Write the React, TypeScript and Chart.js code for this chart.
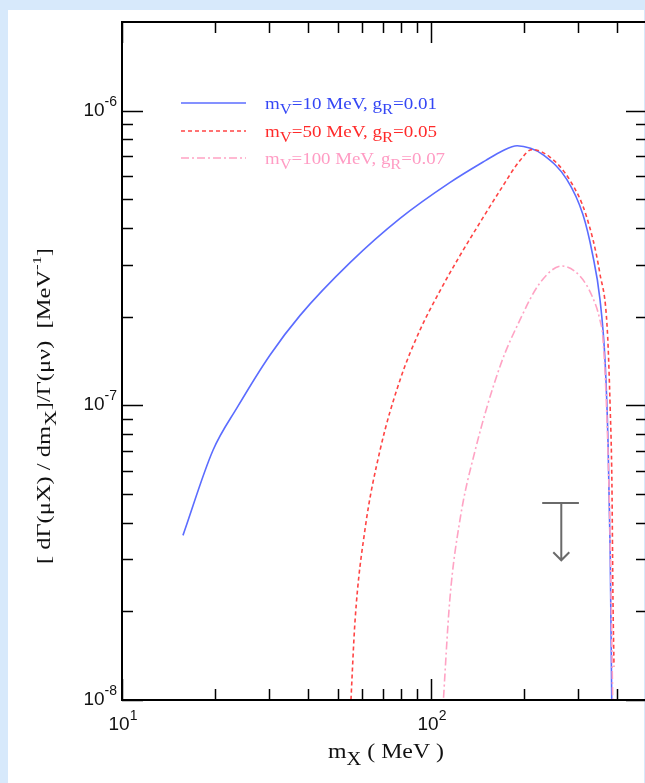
import { useEffect, useRef } from "react";
import { Chart, registerables } from "chart.js";

Chart.register(...registerables);

// Differential rate vs. m_X for three (m_V, g_R) choices
const massBlue = [15.75, 19.7, 23.6, 30.1, 37.7, 54.7, 79.4, 115, 150, 170, 190, 210, 230, 275, 310, 333, 352, 366, 374, 380, 383, 385];
const rateBlue = [3.62e-8, 7.04e-8, 9.84e-8, 1.48e-7, 2.02e-7, 3.05e-7, 4.31e-7, 5.7e-7, 6.77e-7, 7.3e-7, 7.6e-7, 7.45e-7, 7.1e-7, 5.85e-7, 4.45e-7, 3.27e-7, 2.3e-7, 1.4e-7, 7.5e-8, 3.2e-8, 1.5e-8, 8.5e-9];

const massRed = [54.8, 56.8, 61.1, 68.4, 79.4, 92.1, 107, 124, 144, 167, 194, 212, 243, 282, 318, 352, 372, 380, 385, 388, 391];
const rateRed = [9e-9, 1.87e-8, 3.77e-8, 7.04e-8, 1.22e-7, 1.8e-7, 2.45e-7, 3.22e-7, 4.17e-7, 5.35e-7, 6.77e-7, 7.38e-7, 6.95e-7, 5.79e-7, 4.4e-7, 2.8e-7, 1.8e-7, 9.8e-8, 5.4e-8, 2.2e-8, 1.3e-8];

const massPink = [109, 115, 124, 139, 167, 194, 225, 265, 303, 332, 352, 360, 371, 380, 385, 388];
const ratePink = [9e-9, 2.18e-8, 4.07e-8, 7.04e-8, 1.35e-7, 1.95e-7, 2.6e-7, 2.97e-7, 2.75e-7, 2.35e-7, 1.95e-7, 1.69e-7, 9e-8, 3.5e-8, 1.5e-8, 8.5e-9];

// Experimental upper limit marker
const limitMass = 264;
const limitRate = 4.66e-8;
const limitTipRate = 2.98e-8;
const limitBarMass = [229, 301];

// Axis ranges and ticks
const xRange = [10, 500];
const yRange = [1e-8, 2e-6];
const xMajorTicks = [10, 100];
const xMinorTicks = [20, 30, 40, 50, 60, 70, 80, 90, 200, 300, 400];
const yMajorTicks = [1e-8, 1e-7, 1e-6];
const yMinorTicks = [2e-8, 3e-8, 4e-8, 5e-8, 6e-8, 7e-8, 8e-8, 9e-8, 2e-7, 3e-7, 4e-7, 5e-7, 6e-7, 7e-7, 8e-7, 9e-7];
const xLabelValues = [10, 100];
const xLabelExps = ["1", "2"];
const yLabelValues = [1e-8, 1e-7, 1e-6];
const yLabelExps = ["-8", "-7", "-6"];

// Legend entries
const legendMasses = ["10", "50", "100"];
const legendCouplings = ["0.01", "0.05", "0.07"];

const BLUE = "#5b6cff";
const RED = "#ff4444";
const PINK = "#ffa3c4";
const BLUE_TEXT = "#3446f5";
const RED_TEXT = "#ff2a2a";
const PINK_TEXT = "#ff9cc4";
const RED_DASH = [4, 3];
const PINK_DASH = [8, 3, 2, 3];

const SERIF = '"Liberation Serif", "Times New Roman", serif';
const SANS = '"Liberation Sans", Arial, sans-serif';

type Part = { t: string; size: number; dy: number };

function drawRich(
  ctx: CanvasRenderingContext2D,
  parts: Part[],
  x: number,
  y: number,
  align: "left" | "center" | "right",
  family: string,
  color: string,
  targetW?: number
) {
  ctx.save();
  let w = 0;
  for (const p of parts) {
    ctx.font = `${p.size}px ${family}`;
    w += ctx.measureText(p.t).width;
  }
  const sx = targetW ? targetW / w : 1;
  const total = w * sx;
  const x0 = align === "left" ? x : align === "center" ? x - total / 2 : x - total;
  ctx.translate(x0, y);
  ctx.scale(sx, 1);
  ctx.fillStyle = color;
  ctx.textAlign = "left";
  ctx.textBaseline = "alphabetic";
  let cx = 0;
  for (const p of parts) {
    ctx.font = `${p.size}px ${family}`;
    ctx.fillText(p.t, cx, p.dy);
    cx += ctx.measureText(p.t).width;
  }
  ctx.restore();
}

const decor = {
  id: "decor",
  beforeDraw(chart: any) {
    const ctx = chart.ctx as CanvasRenderingContext2D;
    ctx.save();
    ctx.fillStyle = "#d7e9fb";
    ctx.fillRect(0, 0, chart.width, chart.height);
    ctx.fillStyle = "#ffffff";
    ctx.fillRect(8, 10, 636, chart.height - 10);
    ctx.restore();
  },
  afterDatasetsDraw(chart: any) {
    const ctx = chart.ctx as CanvasRenderingContext2D;
    const xs = chart.scales.x;
    const ys = chart.scales.y;
    const { left, right, top, bottom } = chart.chartArea;
    ctx.save();

    // frame
    ctx.strokeStyle = "#000";
    ctx.lineWidth = 2;
    ctx.strokeRect(left, top, right - left, bottom - top);

    // inward ticks on all four sides
    ctx.lineWidth = 1.5;
    const tickX = (v: number, len: number) => {
      const px = Math.round(xs.getPixelForValue(v)) + 0.5;
      ctx.beginPath();
      ctx.moveTo(px, bottom);
      ctx.lineTo(px, bottom - len);
      ctx.moveTo(px, top);
      ctx.lineTo(px, top + len);
      ctx.stroke();
    };
    const tickY = (v: number, len: number) => {
      const py = Math.round(ys.getPixelForValue(v)) + 0.5;
      ctx.beginPath();
      ctx.moveTo(left, py);
      ctx.lineTo(left + len, py);
      ctx.moveTo(right, py);
      ctx.lineTo(right - len, py);
      ctx.stroke();
    };
    xMajorTicks.forEach((v) => tickX(v, 21));
    xMinorTicks.forEach((v) => tickX(v, 11));
    yMajorTicks.forEach((v) => tickY(v, 21));
    yMinorTicks.forEach((v) => tickY(v, 11));

    // tick labels
    xLabelValues.forEach((v, i) => {
      const px = xs.getPixelForValue(v);
      drawRich(
        ctx,
        [
          { t: "10", size: 19, dy: 0 },
          { t: xLabelExps[i], size: 14, dy: -10 },
        ],
        px + 1,
        bottom + 30,
        "center",
        SANS,
        "#111"
      );
    });
    yLabelValues.forEach((v, i) => {
      const py = ys.getPixelForValue(v);
      drawRich(
        ctx,
        [
          { t: "10", size: 19, dy: 0 },
          { t: yLabelExps[i], size: 14, dy: -10 },
        ],
        left - 5,
        py + 5,
        "right",
        SANS,
        "#111"
      );
    });

    // axis titles
    drawRich(
      ctx,
      [
        { t: "m", size: 21, dy: 0 },
        { t: "X", size: 18, dy: 7 },
        { t: " ( MeV )", size: 21, dy: 0 },
      ],
      386,
      758,
      "center",
      SERIF,
      "#111",
      116
    );
    ctx.save();
    ctx.translate(50, 406);
    ctx.rotate(-Math.PI / 2);
    drawRich(
      ctx,
      [
        { t: "[ d\u0393(\u03bcX) / dm", size: 19, dy: 0 },
        { t: "X", size: 17, dy: 6 },
        { t: "]/\u0393(\u03bc\u03bd)  [MeV", size: 19, dy: 0 },
        { t: "-1", size: 13, dy: -9 },
        { t: "]", size: 19, dy: 0 },
      ],
      0,
      0,
      "center",
      SERIF,
      "#111",
      316
    );
    ctx.restore();

    // upper limit marker
    const lx = xs.getPixelForValue(limitMass);
    const ly = ys.getPixelForValue(limitRate);
    const lt = ys.getPixelForValue(limitTipRate);
    ctx.strokeStyle = "#6a6a6a";
    ctx.lineWidth = 2;
    ctx.beginPath();
    ctx.moveTo(xs.getPixelForValue(limitBarMass[0]), ly);
    ctx.lineTo(xs.getPixelForValue(limitBarMass[1]), ly);
    ctx.moveTo(lx, ly);
    ctx.lineTo(lx, lt);
    ctx.moveTo(lx - 8, lt - 8);
    ctx.lineTo(lx, lt);
    ctx.lineTo(lx + 8, lt - 8);
    ctx.stroke();

    // legend
    const lineColors = [BLUE, RED, PINK];
    const textColors = [BLUE_TEXT, RED_TEXT, PINK_TEXT];
    const dashes = [[], RED_DASH, PINK_DASH];
    const rowY = [103, 131, 158];
    const textW = [172, 172, 180];
    legendMasses.forEach((mv, i) => {
      ctx.strokeStyle = lineColors[i];
      ctx.lineWidth = 1.5;
      ctx.setLineDash(dashes[i]);
      ctx.beginPath();
      ctx.moveTo(181, rowY[i]);
      ctx.lineTo(246, rowY[i]);
      ctx.stroke();
      ctx.setLineDash([]);
      drawRich(
        ctx,
        [
          { t: "m", size: 16, dy: 0 },
          { t: "V", size: 14, dy: 5 },
          { t: `=${mv} MeV, g`, size: 16, dy: 0 },
          { t: "R", size: 14, dy: 5 },
          { t: `=${legendCouplings[i]}`, size: 16, dy: 0 },
        ],
        265,
        rowY[i] + 6,
        "left",
        SERIF,
        textColors[i],
        textW[i]
      );
    });

    ctx.restore();
  },
};

export default function App() {
  const ref = useRef<HTMLCanvasElement | null>(null);

  useEffect(() => {
    const canvas = ref.current;
    if (!canvas) return;
    const pts = (ms: number[], vs: number[]) => ms.map((m, i) => ({ x: m, y: vs[i] }));
    const common = {
      fill: false,
      pointRadius: 0,
      borderWidth: 1.6,
      cubicInterpolationMode: "monotone" as const,
    };
    const chart = new Chart(canvas, {
      type: "line",
      data: {
        datasets: [
          { ...common, label: "mV=100 MeV", data: pts(massPink, ratePink), borderColor: PINK, borderDash: PINK_DASH },
          { ...common, label: "mV=50 MeV", data: pts(massRed, rateRed), borderColor: RED, borderDash: RED_DASH },
          { ...common, label: "mV=10 MeV", data: pts(massBlue, rateBlue), borderColor: BLUE },
        ],
      },
      options: {
        animation: false,
        responsive: false,
        maintainAspectRatio: false,
        devicePixelRatio: 1,
        parsing: false,
        layout: { padding: { left: 122, right: 13, top: 22, bottom: 83 } },
        scales: {
          x: { type: "logarithmic", min: xRange[0], max: xRange[1], display: false },
          y: { type: "logarithmic", min: yRange[0], max: yRange[1], display: false },
        },
        plugins: { legend: { display: false }, tooltip: { enabled: false } },
      },
      plugins: [decor],
    });
    return () => chart.destroy();
  }, []);

  return (
    <div
      style={{
        position: "fixed",
        left: 0,
        top: 0,
        width: 645,
        height: 783,
        overflow: "hidden",
        background: "#d7e9fb",
      }}
    >
      <canvas ref={ref} width={660} height={783} style={{ display: "block", width: 660, height: 783 }} />
    </div>
  );
}
